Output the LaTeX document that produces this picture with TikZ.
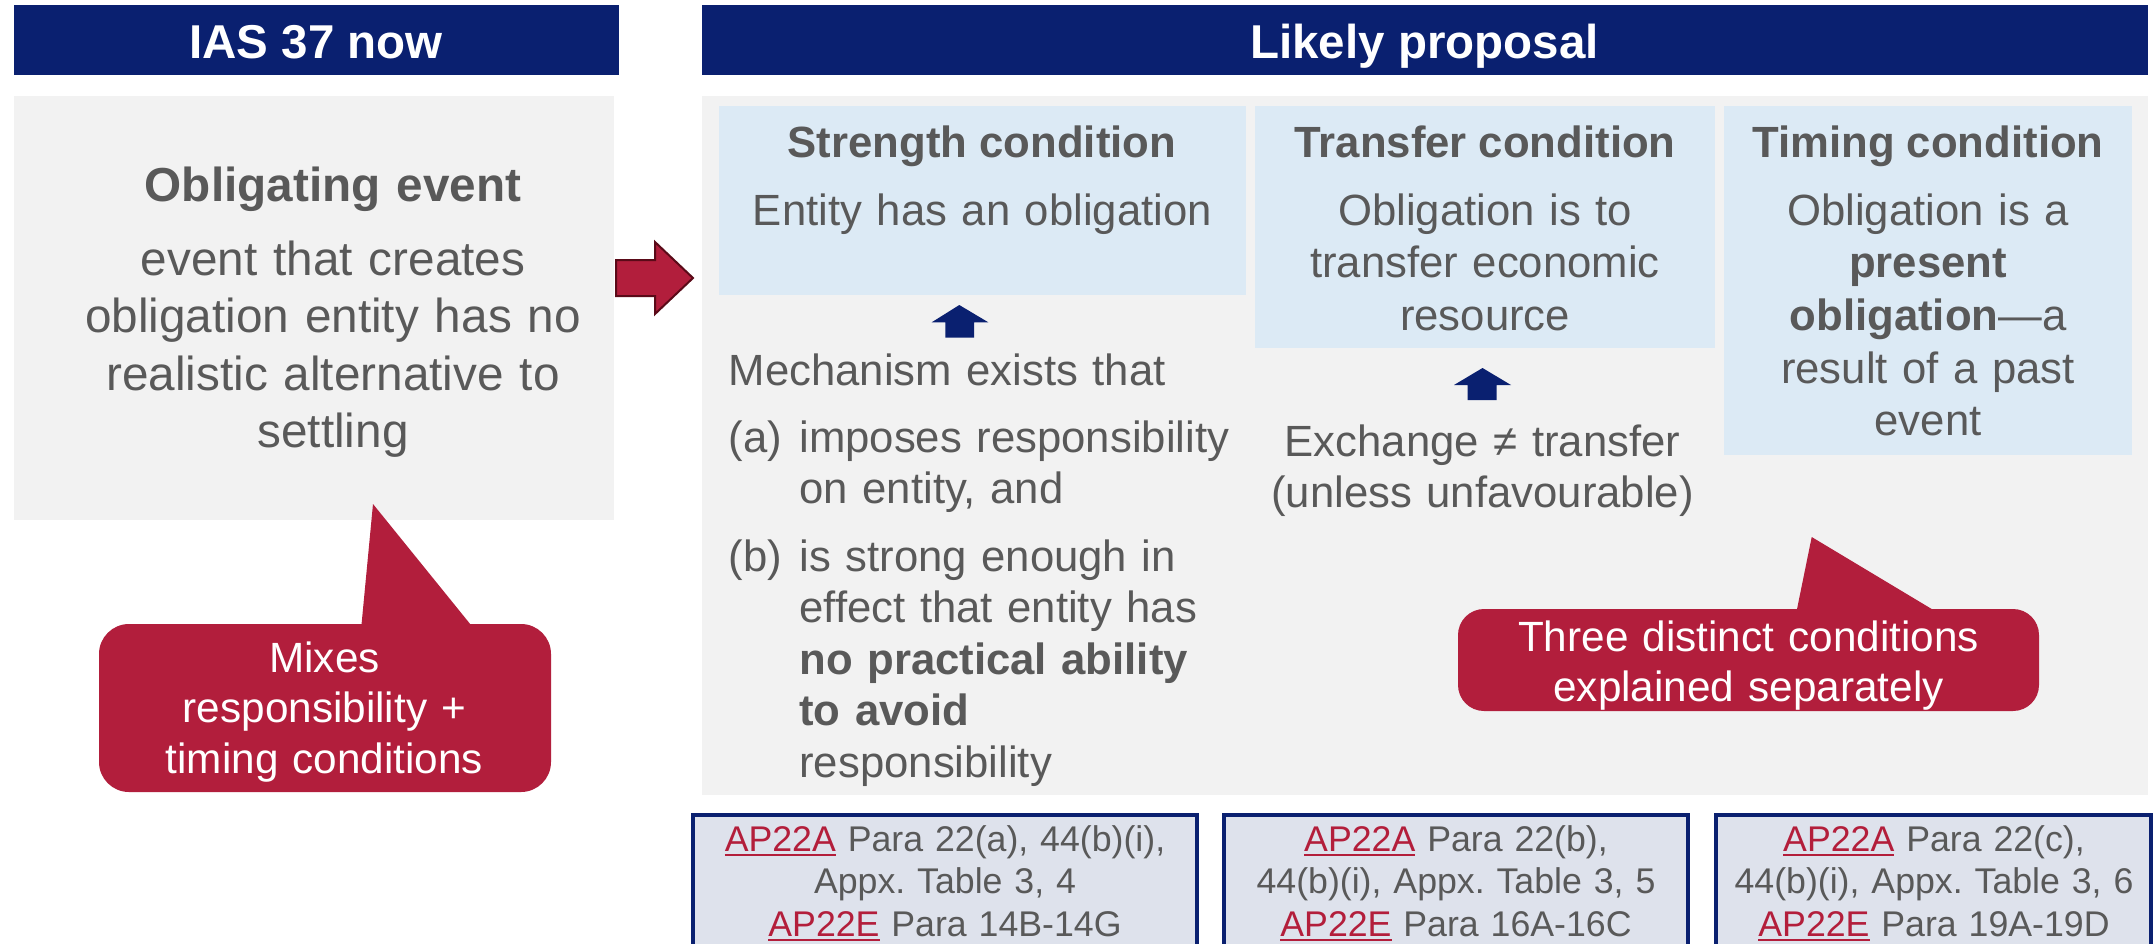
\documentclass[tikz,border=0pt]{standalone}
\usepackage{fontspec}
\setmainfont{Liberation Sans}
\usetikzlibrary{calc}
\definecolor{navy}{RGB}{10,32,112}
\definecolor{greyp}{RGB}{242,242,242}
\definecolor{lblue}{RGB}{220,234,245}
\definecolor{txtgrey}{RGB}{89,89,89}
\definecolor{calred}{RGB}{178,30,60}
\definecolor{darkred}{RGB}{90,10,24}
\definecolor{linkred}{RGB}{179,30,59}
\definecolor{reffill}{RGB}{222,226,236}
\newcommand\lnk[1]{\leavevmode{\color{linkred}\setbox0\hbox{#1}\rlap{\rule[-5pt]{\wd0}{2pt}}\box0}}
\tikzset{
  hdrtext/.style={font=\bfseries\fontsize{47.5}{57}\selectfont, text=white, anchor=base},
  lbody/.style={font=\fontsize{47.7}{57.6}\selectfont, align=center, text width=580, anchor=base, text=txtgrey},
  rtitle/.style={font=\bfseries\fontsize{43.7}{52.7}\selectfont, anchor=base, text=txtgrey},
  rbody/.style={font=\fontsize{43.7}{52.7}\selectfont, align=center, text width=520, anchor=base, text=txtgrey},
  sbody/.style={font=\fontsize{43.7}{51.5}\selectfont, align=left, text width=600, anchor=base west, text=txtgrey},
  calltext/.style={font=\fontsize{42.3}{50.5}\selectfont, align=center, text width=560, anchor=base, text=white},
  reftext/.style={font=\fontsize{35.7}{42.5}\selectfont, align=center, text width=500, anchor=base, text=txtgrey},
  panel/.style={fill=greyp},
  condbox/.style={fill=lblue},
  refbox/.style={draw=navy, line width=4pt, fill=reffill},
  blockup/.style={fill=navy},
  callout/.style={fill=calred}
}
\begin{document}
\begin{tikzpicture}[x=1pt,y=-1pt, every node/.style={inner sep=0pt, outer sep=0pt}]
\useasboundingbox (0,0) rectangle (2155,943);
\clip (0,0) rectangle (2155,943);
\fill[white] (0,0) rectangle (2155,943);

% headers
\fill[navy] (14,5) rectangle (619,75);
\fill[navy] (702,5) rectangle (2148,75);
\node[hdrtext] (h1) at (316,58) {IAS 37 now};
\node[hdrtext] (h2) at (1424.5,58) {Likely proposal};

% left box
\fill[panel] (14,96) rectangle (614,520);
\node[lbody] (oblt) at (333,201) {\bfseries Obligating event};
\node[lbody] (oblb) at (333,275) {event that creates\\obligation entity has no\\realistic alternative to\\settling};

% big red arrow
\coordinate (arrS) at (616,278);
\coordinate (arrE) at (693,278);
\draw[fill=calred, draw=darkred, line width=2pt, line join=miter]
  ($(arrS)+(0,-18)$) -- (655,260) -- (655,242) -- (arrE) -- (655,314) -- (655,296) -- ($(arrS)+(0,18)$) -- cycle;

% right panel
\fill[panel] (702,96) rectangle (2148,795);
\fill[condbox] (719,106) rectangle (1245.5,294.6);
\fill[condbox] (1255,106) rectangle (1715.4,347.6);
\fill[condbox] (1724,106) rectangle (2132,455);

\node[rtitle] (st) at (982,157.5) {Strength condition};
\node[rbody] (sb) at (982.5,225.5) {Entity has an obligation};
\node[rtitle] (tt) at (1485,157.5) {Transfer condition};
\node[rbody] (tb) at (1485,225) {Obligation is to\\transfer economic\\resource};
\node[rtitle] (mt) at (1928,157.5) {Timing condition};
\node[rbody] (mb) at (1928,225) {Obligation is a\\\textbf{present}\\\textbf{obligation}—a\\result of a past\\event};

% blue up arrows
\fill[blockup] (931.7,322.3) -- (959.3,305) -- (988.3,322.3) -- (974,322.3) -- (974,337.7) -- (945.3,337.7) -- (945.3,322.3) -- cycle;
\fill[blockup] (1454,385) -- (1482.5,368) -- (1511,385) -- (1496.5,385) -- (1496.5,400) -- (1467.5,400) -- (1467.5,385) -- cycle;

% strength body
\node[sbody] (mech) at (728.6,385) {Mechanism exists that};
\node[sbody] (la) at (728.6,452) {(a)};
\node[sbody] (ta) at (799.4,452) {imposes responsibility\\on entity, and};
\node[sbody] (lb) at (728.6,571) {(b)};
\node[sbody] (tbb) at (799.4,571) {is strong enough in\\effect that entity has\\\textbf{no practical ability}\\\textbf{to avoid}\\responsibility};

% transfer body
\node[rbody, font=\fontsize{43.7}{51}\selectfont] (ex) at (1482.5,456) {Exchange ≠ transfer\\(unless unfavourable)};

% left callout
\coordinate (c1tip) at (373,504);
\fill[callout] (361,630) -- (c1tip) -- (475,630) -- cycle;
\fill[callout, rounded corners=30pt] (99,624) rectangle (551,792);
\node[calltext] (c1) at (324.5,672) {Mixes\\responsibility +\\timing conditions};

% right callout
\coordinate (c2tip) at (1811.7,537);
\fill[callout] (1795.8,615) -- (c2tip) -- (1941.7,615) -- cycle;
\fill[callout, rounded corners=26pt] (1458,609) rectangle (2039,711);
\node[calltext, text width=600] (c2) at (1748.5,651) {Three distinct conditions\\explained separately};

% reference boxes
\draw[refbox] (692.7,815) rectangle (1197,980);
\draw[refbox] (1223.5,815) rectangle (1688,980);
\draw[refbox] (1716,815) rectangle (2151,980);
\node[reftext] (r1) at (945,851) {\lnk{AP22A} Para 22(a), 44(b)(i),\\Appx.\ Table 3, 4\\\lnk{AP22E} Para 14B-14G};
\node[reftext] (r2) at (1456,851) {\lnk{AP22A} Para 22(b),\\44(b)(i), Appx.\ Table 3, 5\\\lnk{AP22E} Para 16A-16C};
\node[reftext] (r3) at (1934,851) {\lnk{AP22A} Para 22(c),\\44(b)(i), Appx.\ Table 3, 6\\\lnk{AP22E} Para 19A-19D};
\end{tikzpicture}
\end{document}
